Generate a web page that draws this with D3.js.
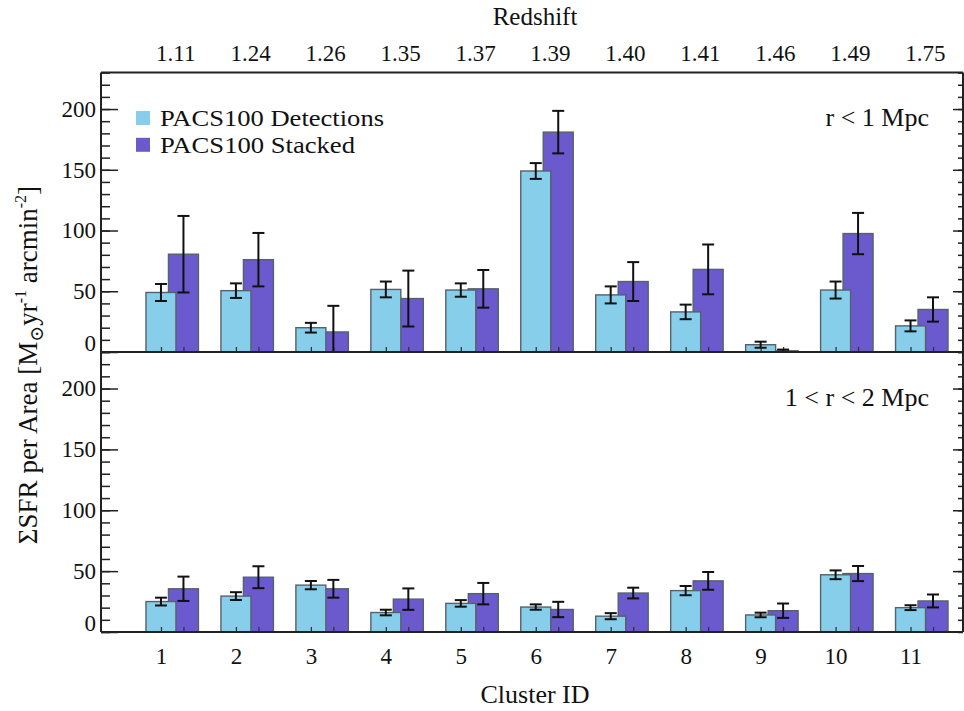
<!DOCTYPE html>
<html>
<head>
<meta charset="utf-8">
<script src="https://cdn.jsdelivr.net/npm/d3@7"></script>
<style>
  body { margin: 0; background: #fff; }
  svg text { font-family: "Liberation Serif", "DejaVu Serif", serif; fill: #111; }
</style>
</head>
<body>
<svg id="chart"></svg>
<script>
// cluster ids and the redshift of each cluster (top axis)
var clusterIds = [1, 2, 3, 4, 5, 6, 7, 8, 9, 10, 11];
var redshifts = ["1.11", "1.24", "1.26", "1.35", "1.37", "1.39", "1.40", "1.41", "1.46", "1.49", "1.75"];

// r < 1 Mpc
var detInner    = [49, 50.5, 20, 51.5, 51, 149, 47, 33, 6, 51, 21.5];
var detInnerErr = [7, 6, 4, 6.5, 5.5, 6.5, 7, 6, 2.5, 7, 4.5];
var stkInner    = [80.5, 76, 16.5, 44, 52, 181, 58, 68, 1, 97.5, 35];
var stkInnerErr = [31.5, 22, 21.5, 23, 15.5, 17.5, 16, 20.5, 1, 17, 10];

// 1 < r < 2 Mpc
var detOuter    = [25, 29.5, 38.5, 16, 23.5, 20.5, 13, 34, 14, 47, 20];
var detOuterErr = [3.2, 3.2, 3.4, 2.3, 2.7, 2.2, 2.5, 3.8, 1.9, 3.6, 2];
var stkOuter    = [35.5, 45, 35.5, 27, 31.5, 18.5, 32, 42, 17.5, 48, 25.5];
var stkOuterErr = [10, 9, 7.3, 8.8, 8.8, 6.3, 4.4, 7.3, 5.9, 6.2, 5.3];

var yMajor = [0, 50, 100, 150, 200];
var seriesNames = ["PACS100 Detections", "PACS100 Stacked"];

var screen = {width: 964, height: 711};
var frame = {left: 101, right: 963, top: 72.6, mid: 352, bottom: 632};
var colors = ["#87CEEB", "#6A5ACD"];
var barW = 0.4, stkShift = 0.3;

var svg = d3.select("#chart")
    .attr("width", screen.width)
    .attr("height", screen.height);

var xScale = d3.scaleLinear()
    .domain([0.2, 11.7])
    .range([frame.left, frame.right]);

var panels = [
    {top: frame.top, bottom: frame.mid, det: detInner, detErr: detInnerErr,
     stk: stkInner, stkErr: stkInnerErr, label: "r < 1 Mpc", labelY: 126},
    {top: frame.mid, bottom: frame.bottom, det: detOuter, detErr: detOuterErr,
     stk: stkOuter, stkErr: stkOuterErr, label: "1 < r < 2 Mpc", labelY: 406}
];

panels.forEach(function(p, pi)
{
    var yScale = d3.scaleLinear()
        .domain([0, 230])
        .range([p.bottom, p.top])
        .clamp(true);

    var g = svg.append("g").classed("panel", true);

    // stacked bars first, detections drawn over them
    var groups = [
        {vals: p.stk, errs: p.stkErr, shift: stkShift, color: colors[1]},
        {vals: p.det, errs: p.detErr, shift: 0, color: colors[0]}
    ];

    groups.forEach(function(s)
    {
        g.append("g").selectAll("rect")
            .data(s.vals)
            .enter()
            .append("rect")
            .attr("x", function(d, i) { return xScale(clusterIds[i] + s.shift - barW / 2); })
            .attr("width", function() { return xScale(barW) - xScale(0); })
            .attr("y", function(d) { return yScale(d); })
            .attr("height", function(d) { return yScale(0) - yScale(d); })
            .attr("fill", s.color)
            .attr("stroke", "#56616b")
            .attr("stroke-width", 1.4);
    });

    // inward x ticks at each bar centre
    [0, stkShift].forEach(function(sh)
    {
        var ax = d3.axisBottom(xScale)
            .tickValues(clusterIds.map(function(c) { return c + sh; }))
            .tickSizeInner(-5)
            .tickSizeOuter(0)
            .tickFormat("");
        var a = g.append("g")
            .attr("transform", "translate(0," + p.bottom + ")")
            .call(ax);
        a.select(".domain").remove();
        a.selectAll("line").attr("stroke", "#333").attr("stroke-width", 1.3);
    });

    // error bars
    groups.forEach(function(s)
    {
        var eg = g.append("g").attr("stroke", "#111").attr("stroke-width", 2);
        s.vals.forEach(function(v, i)
        {
            var cx = xScale(clusterIds[i] + s.shift);
            var hi = yScale(v + s.errs[i]);
            var lo = yScale(v - s.errs[i]);
            eg.append("line").attr("x1", cx).attr("x2", cx).attr("y1", hi).attr("y2", lo);
            eg.append("line").attr("x1", cx - 6).attr("x2", cx + 6).attr("y1", hi).attr("y2", hi);
            if (v - s.errs[i] > 0)
                eg.append("line").attr("x1", cx - 6).attr("x2", cx + 6).attr("y1", lo).attr("y2", lo);
        });
    });

    // left axis: major and minor ticks pointing inward
    var minorAxis = d3.axisLeft(yScale)
        .tickValues(d3.range(0, 231, 10))
        .tickSizeInner(-9)
        .tickSizeOuter(0)
        .tickFormat("");
    var ml = g.append("g")
        .attr("transform", "translate(" + frame.left + ",0)")
        .call(minorAxis);
    ml.select(".domain").remove();
    ml.selectAll("line").attr("stroke", "#222").attr("stroke-width", 1.5);

    var majorAxis = d3.axisLeft(yScale)
        .tickValues(yMajor)
        .tickSizeInner(-17)
        .tickSizeOuter(0)
        .tickPadding(5)
        .tickFormat(d3.format("d"));
    var yl = g.append("g")
        .attr("transform", "translate(" + frame.left + ",0)")
        .call(majorAxis);
    yl.select(".domain").remove();
    yl.selectAll("line").attr("stroke", "#222").attr("stroke-width", 1.5);
    yl.selectAll("text")
        .attr("font-size", 23)
        .attr("fill", "#111")
        .attr("x", -5)
        .attr("dy", function(d) { return d === 0 ? "-0.05em" : "0.32em"; });

    // right axis ticks
    var rMinor = d3.axisRight(yScale)
        .tickValues(d3.range(0, 231, 10))
        .tickSizeInner(-5)
        .tickSizeOuter(0)
        .tickFormat("");
    var rm = g.append("g")
        .attr("transform", "translate(" + frame.right + ",0)")
        .call(rMinor);
    rm.select(".domain").remove();
    rm.selectAll("line").attr("stroke", "#222").attr("stroke-width", 1.5);

    var rMajor = d3.axisRight(yScale)
        .tickValues(yMajor.slice(1))
        .tickSizeInner(-10)
        .tickSizeOuter(0)
        .tickFormat("");
    var rj = g.append("g")
        .attr("transform", "translate(" + frame.right + ",0)")
        .call(rMajor);
    rj.select(".domain").remove();
    rj.selectAll("line").attr("stroke", "#222").attr("stroke-width", 1.5);

    // panel label
    g.append("text")
        .attr("x", 929)
        .attr("y", p.labelY)
        .attr("text-anchor", "end")
        .attr("font-size", 26)
        .text(p.label);
});

// frame
var fr = svg.append("g").attr("stroke", "#222").attr("stroke-width", 2).attr("fill", "none");
fr.append("line").attr("x1", frame.left).attr("x2", frame.right).attr("y1", frame.top).attr("y2", frame.top);
fr.append("line").attr("x1", frame.left).attr("x2", frame.right).attr("y1", frame.mid).attr("y2", frame.mid);
fr.append("line").attr("x1", frame.left).attr("x2", frame.right).attr("y1", frame.bottom).attr("y2", frame.bottom);
fr.append("line").attr("x1", frame.left).attr("x2", frame.left).attr("y1", frame.top).attr("y2", frame.bottom);
fr.append("line").attr("x1", frame.right).attr("x2", frame.right).attr("y1", frame.top).attr("y2", frame.bottom);

// bottom axis labels: cluster id
var xAxis = d3.axisBottom(xScale)
    .tickValues(clusterIds)
    .tickSize(0)
    .tickPadding(16)
    .tickFormat(d3.format("d"));
var xa = svg.append("g")
    .attr("transform", "translate(0," + frame.bottom + ")")
    .call(xAxis);
xa.select(".domain").remove();
xa.selectAll("text").attr("font-size", 23).attr("fill", "#111");

// top axis labels: redshift
var zAxis = d3.axisTop(xScale)
    .tickValues(clusterIds.map(function(c) { return c + 0.19; }))
    .tickSize(0)
    .tickPadding(12)
    .tickFormat(function(d, i) { return redshifts[i]; });
var za = svg.append("g")
    .attr("transform", "translate(0," + frame.top + ")")
    .call(zAxis);
za.select(".domain").remove();
za.selectAll("text").attr("font-size", 23).attr("fill", "#111");

// axis titles
svg.append("text")
    .attr("x", 535).attr("y", 25)
    .attr("text-anchor", "middle")
    .attr("font-size", 25)
    .text("Redshift");

svg.append("text")
    .attr("x", 535).attr("y", 703)
    .attr("text-anchor", "middle")
    .attr("font-size", 26)
    .text("Cluster ID");

var yt = svg.append("text")
    .attr("transform", "translate(37,365) rotate(-90)")
    .attr("text-anchor", "middle")
    .attr("font-size", 27);
yt.append("tspan").text("\u03A3SFR per Area [M");
yt.append("tspan").attr("font-size", 19).attr("dy", 6).text("\u2299");
yt.append("tspan").attr("dy", -6).text("yr");
yt.append("tspan").attr("font-size", 16).attr("dy", -11).text("-1");
yt.append("tspan").attr("dy", 11).text(" arcmin");
yt.append("tspan").attr("font-size", 16).attr("dy", -11).text("-2");
yt.append("tspan").attr("dy", 11).text("]");

// legend
var legend = svg.append("g")
    .classed("legend", true)
    .attr("transform", "translate(136,111)");

var entries = legend.selectAll("g")
    .data(seriesNames)
    .enter()
    .append("g")
    .attr("transform", function(d, i) { return "translate(0," + i * 26.8 + ")"; });

entries.append("rect")
    .attr("width", 14)
    .attr("height", 14)
    .attr("fill", function(d, i) { return colors[i]; });

entries.append("text")
    .attr("x", 24)
    .attr("y", 15)
    .attr("font-size", 24)
    .attr("textLength", function(d, i) { return i === 0 ? 224 : 195; })
    .attr("lengthAdjust", "spacingAndGlyphs")
    .text(function(d) { return d; });
</script>
</body>
</html>
